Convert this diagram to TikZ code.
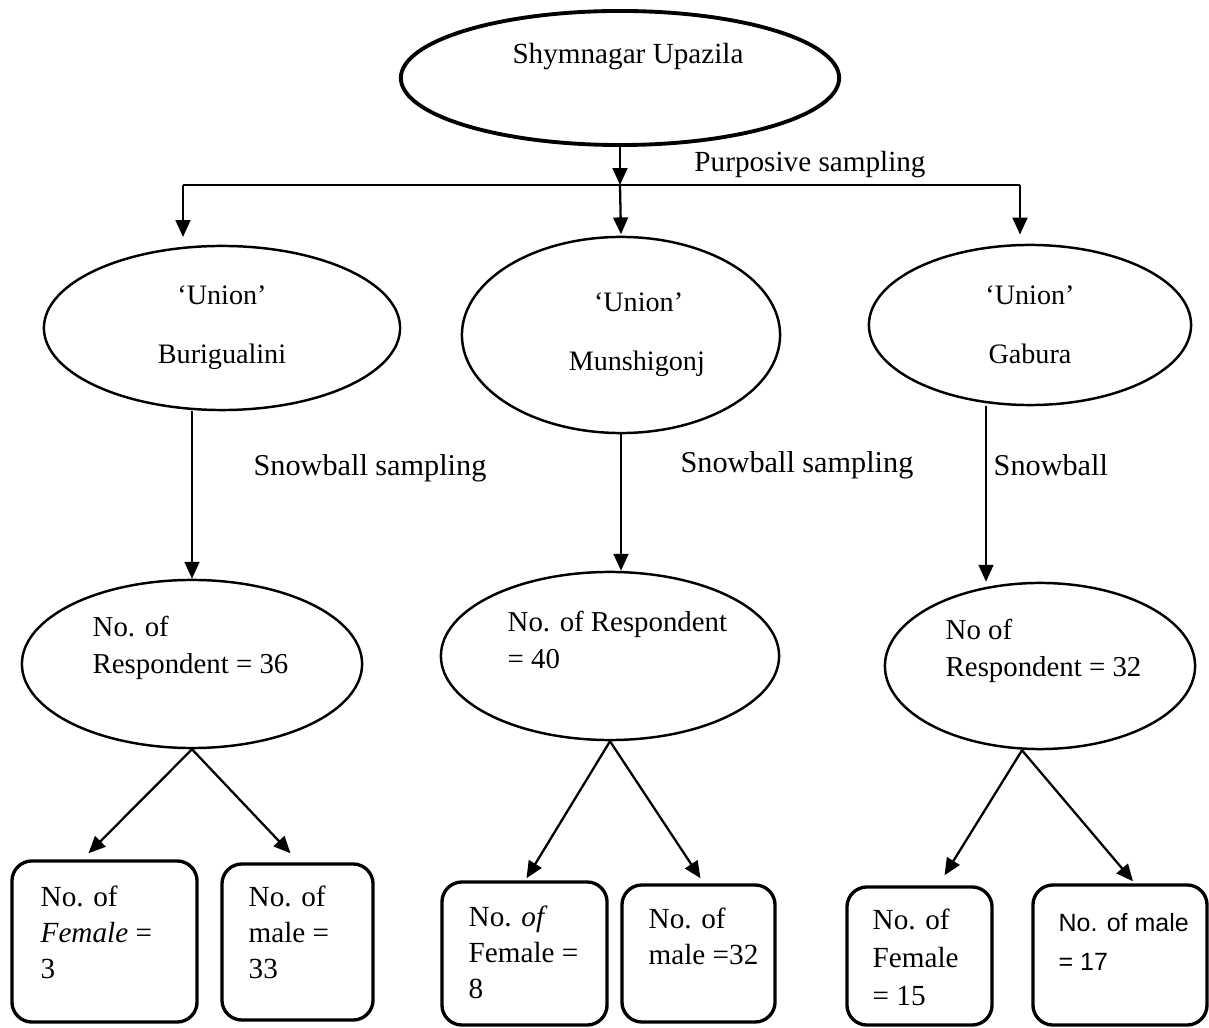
\documentclass[tikz,border=0pt]{standalone}
\usepackage{fontspec}
\setmainfont{Liberation Serif}
\newfontfamily\boxsans{Liberation Sans}
\usetikzlibrary{arrows.meta, positioning, shapes.geometric, calc}
\tikzset{
    topEll/.style={ellipse, draw=black, line width=1.1pt, inner sep=0pt},
    unionEll/.style={ellipse, draw=black, line width=0.7pt, inner sep=0pt, align=center, font=\fontsize{8}{10.3}\selectfont},
    respEll/.style={ellipse, draw=black, line width=0.7pt, inner sep=0pt},
    countBox/.style={draw=black, line width=0.95pt, rounded corners=2mm, inner sep=0pt},
    txt/.style={inner sep=0pt, align=left, font=\fontsize{8.3}{10.2}\selectfont},
    flow/.style={->, line width=0.65pt}
}

\begin{document}
\begin{tikzpicture}[x=0.01cm, y=-0.01cm, >={Triangle[length=4.8pt, width=4.2pt]}]
    \useasboundingbox (0,0) rectangle (1209,1028);
    % upazila
    \node[topEll, minimum width=4.38cm, minimum height=1.34cm] (Upazila) at (620,78) {};
    \node[txt] (upazilaTxt) at (628,57) {Shymnagar Upazila};
    \coordinate (fork) at (620,185);  \coordinate (forkL) at (183,185);  \coordinate (forkR) at (1020,185);
    \draw[flow] (Upazila.south) -- (fork);
    \draw[line width=0.65pt] (forkL) -- (forkR);
    \node[txt] (purposive) at (810,165) {Purposive sampling};
    % unions
    \node[unionEll, minimum width=3.56cm, minimum height=1.64cm] (Bur) at (222,328) {`Union'\\[6.5pt] Burigualini};
    \node[unionEll, minimum width=3.18cm, minimum height=1.96cm] (Mun) at (621,335) {\hspace*{10pt}`Union'\\[6.5pt] \hspace*{9pt}Munshigonj};
    \node[unionEll, minimum width=3.22cm, minimum height=1.60cm] (Gab) at (1030,325) {`Union'\\[6.5pt] Gabura};
    \draw[flow, shorten >=2.2pt] (forkL) -- (forkL |- Bur.north);
    \draw[flow, shorten >=0.4pt] (fork) -- (Mun.north);
    \draw[flow, shorten >=2.6pt] (forkR) -- (forkR |- Gab.north);
    % respondents
    \node[respEll, minimum width=3.40cm, minimum height=1.68cm] (R1) at (192,664) {};
    \node[respEll, minimum width=3.38cm, minimum height=1.68cm] (R2) at (610,656) {};
    \node[respEll, minimum width=3.10cm, minimum height=1.66cm] (R3) at (1040,666) {};
    \node[txt, anchor=west, font=\fontsize{8.2}{10.6}\selectfont] (r1Txt) at (92,648) {No. of\\ Respondent = 36};
    \node[txt, anchor=west, font=\fontsize{8.2}{10.6}\selectfont] (r2Txt) at (507,640) {No. of Respondent\\ = 40};
    \node[txt, anchor=west, font=\fontsize{8.2}{10.6}\selectfont] (r3Txt) at (945,651) {No of\\ Respondent = 32};
    \coordinate (snowX) at (986,0);
    \draw[flow] (Bur.south -| R1.north) -- (R1.north);
    \draw[flow] (Mun.south) -- (Mun.south |- R2.north);
    \draw[flow] (Gab.south -| snowX) -- (snowX |- R3.north);
    \node[txt, font=\fontsize{8.6}{10}\selectfont] (snow1) at (370,468) {Snowball sampling};
    \node[txt, font=\fontsize{8.6}{10}\selectfont] (snow2) at (797,465) {Snowball sampling};
    \node[txt, anchor=west, font=\fontsize{8.6}{10}\selectfont] (snow3) at (993,465) {Snowball};
    % counts
    \node[countBox, minimum width=1.85cm, minimum height=1.61cm] (B1) at (104.5,941.5) {};
    \node[countBox, minimum width=1.51cm, minimum height=1.56cm] (B2) at (297.5,942) {};
    \node[countBox, minimum width=1.65cm, minimum height=1.43cm] (B3) at (524.5,953.5) {};
    \node[countBox, minimum width=1.53cm, minimum height=1.37cm] (B4) at (698.5,953.5) {};
    \node[countBox, minimum width=1.45cm, minimum height=1.38cm] (B5) at (919.5,956) {};
    \node[countBox, minimum width=1.74cm, minimum height=1.40cm] (B6) at (1120,955) {};
    \node[txt, anchor=west] (b1Txt) at (40,932) {No. of\\ \textit{Female} =\\ 3};
    \node[txt, anchor=west] (b2Txt) at (248,932) {No. of\\ male =\\ 33};
    \node[txt, anchor=west] (b3Txt) at (468,952) {No. \textit{of}\\ Female =\\ 8};
    \node[txt, anchor=west] (b4Txt) at (648,936) {No. of\\ male =32};
    \node[txt, anchor=west, font=\fontsize{8.3}{10.8}\selectfont] (b5Txt) at (872,957) {No. of\\ Female\\ = 15};
    \node[txt, anchor=west, font=\boxsans\fontsize{7.1}{11}\selectfont] (b6Txt) at (1058,942) {No. of male\\ = 17};
    \draw[flow] (R1.south) -- ($(B1.north)+(-16,-6)$);
    \draw[flow] (R1.south) -- ($(B2.north)+(-7,-9)$);
    \draw[flow] (R2.south) -- ($(B3.north)+(2,-2)$);
    \draw[flow] (R2.south) -- ($(B4.north)+(2,-5)$);
    \draw[flow] ($(R3.south)+(-18,0)$) -- ($(B5.north)+(25,-10)$);
    \draw[flow] ($(R3.south)+(-18,0)$) -- ($(B6.north)+(13,-2)$);
\end{tikzpicture}
\end{document}
